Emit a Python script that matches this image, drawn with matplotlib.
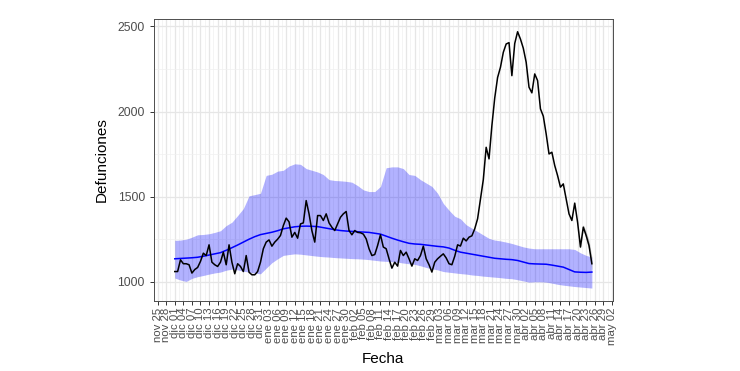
import numpy as np
import pandas as pd
import matplotlib
matplotlib.use("Agg")
import matplotlib.pyplot as plt
import matplotlib.dates as mdates
from matplotlib.ticker import FixedLocator, FuncFormatter

plt.rcParams['font.family'] = ['Liberation Sans', 'DejaVu Sans']

# observed daily deaths, one value per day from 2019-12-01
obs_start = '2019-12-01'
observed = [
    1060, 1060, 1129, 1106, 1106, 1100, 1051, 1072, 1084, 1120,
    1168, 1154, 1217, 1115, 1100, 1090, 1115, 1174, 1100, 1217,
    1115, 1047, 1106, 1090, 1060, 1154, 1056, 1041, 1041, 1060,
    1115, 1194, 1233, 1246, 1209, 1233, 1250, 1272, 1330, 1374,
    1352, 1262, 1290, 1256, 1340, 1346, 1477, 1399, 1300, 1233,
    1389, 1389, 1360, 1399, 1346, 1320, 1301, 1340, 1379, 1399,
    1413, 1301, 1276, 1301, 1290, 1288, 1280, 1252, 1194, 1154,
    1160, 1213, 1276, 1204, 1194, 1135, 1080, 1115, 1092, 1184,
    1154, 1174, 1135, 1092, 1135, 1125, 1154, 1209, 1135, 1100,
    1057, 1115, 1135, 1150, 1164, 1140, 1106, 1100, 1150, 1217,
    1210, 1256, 1240, 1262, 1270, 1311, 1370, 1487, 1600, 1790,
    1722, 1917, 2080, 2200, 2260, 2348, 2397, 2405, 2211, 2400,
    2469, 2426, 2372, 2290, 2143, 2110, 2221, 2182, 2016, 1973,
    1869, 1751, 1761, 1683, 1624, 1556, 1575, 1487, 1399, 1360,
    1462, 1350, 1204, 1321, 1272, 1213, 1106,
]
# uncertainty of the last (incomplete) days
obs_tail_err = [5, 10, 15, 22, 30, 40]

# expected deaths and its band, every 2 days from 2019-12-01
exp_start = '2019-12-01'
expected = [
    1135, 1137, 1139, 1141, 1144, 1150, 1157, 1164, 1171, 1185,
    1200, 1216, 1233, 1250, 1265, 1277, 1284, 1291, 1300, 1311,
    1317, 1323, 1326, 1327, 1326, 1324, 1318, 1312, 1306, 1301,
    1298, 1296, 1294, 1292, 1290, 1285, 1280, 1268, 1256, 1245,
    1235, 1226, 1222, 1220, 1216, 1212, 1208, 1205, 1198, 1185,
    1174, 1168, 1162, 1156, 1150, 1144, 1138, 1135, 1132, 1130,
    1125, 1116, 1107, 1105, 1104, 1103, 1098, 1092, 1086, 1072,
    1058, 1056, 1055, 1057,
]
exp_upper = [
    1243, 1245, 1250, 1262, 1276, 1278, 1282, 1290, 1300, 1330,
    1350, 1389, 1430, 1505, 1512, 1520, 1625, 1632, 1650, 1655,
    1680, 1693, 1690, 1665, 1655, 1645, 1630, 1600, 1595, 1593,
    1590, 1585, 1565, 1540, 1530, 1530, 1560, 1670, 1675, 1675,
    1665, 1630, 1625, 1600, 1580, 1560, 1520, 1460, 1420, 1385,
    1370, 1335, 1315, 1295, 1275, 1255, 1245, 1240, 1233, 1225,
    1215, 1205, 1198, 1194, 1194, 1194, 1194, 1194, 1194, 1194,
    1190, 1170, 1155, 1145,
]
exp_lower = [
    1022, 1010, 1002, 1020, 1030, 1037, 1045, 1052, 1057, 1068,
    1074, 1070, 1062, 1057, 1050, 1047, 1080, 1112, 1135, 1155,
    1160, 1164, 1162, 1158, 1154, 1150, 1147, 1145, 1142, 1140,
    1138, 1136, 1135, 1133, 1130, 1126, 1122, 1120, 1118, 1115,
    1110, 1106, 1102, 1094, 1084, 1076, 1070, 1060, 1056, 1052,
    1048, 1045, 1040, 1037, 1033, 1030, 1027, 1024, 1020, 1018,
    1012, 1005, 998, 1000, 1000, 998, 992, 985, 980, 976,
    972, 969, 966, 963,
]

month_abbr = ['ene', 'feb', 'mar', 'abr', 'may', 'jun',
              'jul', 'ago', 'sep', 'oct', 'nov', 'dic']
y_breaks = [1000, 1500, 2000, 2500]

obs_dates = pd.date_range(obs_start, periods=len(observed), freq='D')
exp_dates = pd.date_range(exp_start, periods=len(expected), freq='2D')

fig, ax = plt.subplots(figsize=(7.4, 3.71), dpi=100)
fig.subplots_adjust(left=0.208, right=0.828, top=0.949, bottom=0.189)

ax.fill_between(exp_dates, exp_lower, exp_upper, color='blue', alpha=0.3, lw=0)
ax.plot(exp_dates, expected, color='blue', lw=1.1)

tail = obs_dates[-len(obs_tail_err):]
tail_vals = np.array(observed[-len(obs_tail_err):])
err = np.array(obs_tail_err)
ax.fill_between(tail, tail_vals - err, tail_vals + err, color='grey', alpha=0.45, lw=0)
ax.plot(obs_dates, observed, color='black', lw=1.1)

# ggplot-like expansion of the limits (5%)
x0, x1 = mdates.date2num(obs_dates[0]), mdates.date2num(obs_dates[-1])
pad = (x1 - x0) * 0.05
ax.set_xlim(x0 - pad, x1 + pad)
lo = min(min(exp_lower), min(observed))
hi = max(max(exp_upper), max(observed))
ypad = (hi - lo) * 0.05
ax.set_ylim(lo - ypad, hi + ypad)

# date breaks every 3 days, minor breaks halfway
breaks = pd.date_range('2019-11-25', '2020-05-02', freq='3D')
major = mdates.date2num(breaks)
ax.xaxis.set_major_locator(FixedLocator(major))
ax.xaxis.set_minor_locator(FixedLocator(major[:-1] + 1.5))
ax.xaxis.set_major_formatter(FuncFormatter(
    lambda v, p: f"{month_abbr[mdates.num2date(v).month - 1]} {mdates.num2date(v).day:02d}"))
ax.set_yticks(y_breaks)
ax.set_yticks([1250, 1750, 2250], minor=True)

ax.set_axisbelow(True)
ax.grid(which='major', color='#E6E6E6', lw=0.9)
ax.grid(which='minor', color='#F0F0F0', lw=0.5)
for s in ax.spines.values():
    s.set_color('#4D4D4D')
    s.set_linewidth(0.7)

ax.tick_params(axis='both', which='major', length=3, width=0.7, color='#333333',
               labelcolor='#4D4D4D', labelsize=8.8)
ax.tick_params(axis='both', which='minor', length=0)
ax.tick_params(axis='x', labelrotation=90, labelsize=8.2, pad=2)

ax.set_xlabel('Fecha', fontsize=11, labelpad=5)
ax.set_ylabel('Defunciones', fontsize=11, labelpad=6)

fig.savefig('out.png', dpi=100)
